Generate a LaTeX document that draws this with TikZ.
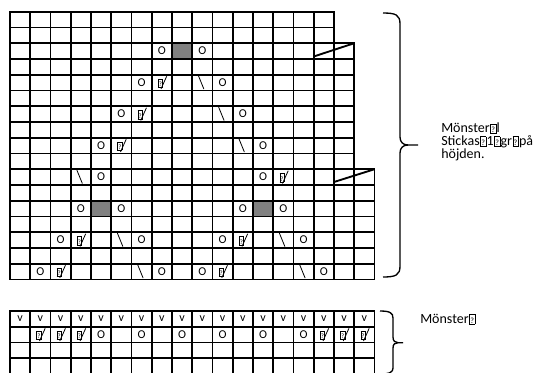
\documentclass[tikz,border=0pt]{standalone}
\usepackage{fontspec}
\setmainfont{Carlito}
\usetikzlibrary{positioning,calc}

\newcommand{\tofu}{{\setlength{\fboxsep}{0.3pt}\setlength{\fboxrule}{0.4pt}\fbox{\rule{0pt}{5.4pt}\fontsize{5}{5}\selectfont ?}}}
\newcommand{\ttofu}{{\setlength{\fboxsep}{0.4pt}\setlength{\fboxrule}{0.5pt}\kern0.3pt\fbox{\rule{0pt}{6pt}\fontsize{6}{6}\selectfont ?}\kern0.3pt}}

\begin{document}
\begin{tikzpicture}[
  x=0.75pt, y=-0.75pt,
  font=\fontsize{9}{9}\selectfont,
  cell/.style={draw=black, line width=1.4pt},
  sym/.style={inner sep=0pt},
  knit/.style={line width=0.6pt},
  lbl/.style={font=\fontsize{10.5}{9.6}\selectfont, align=left, inner sep=0pt, anchor=west},
  brace/.style={line width=1pt},
]
\def\cw{20.25}
\def\ch{15.75}
\clip (0,0) rectangle (542,372);

% top chart, rows 1-2 have 16 stitches, rows 3-10 have 17, rows 11-17 have 18
\foreach \r in {1,...,17}{
  \pgfmathtruncatemacro\n{\r<3 ? 16 : (\r<11 ? 17 : 18)}
  \foreach \c in {1,...,\n}
    \draw[cell] ({10+(\c-1)*\cw},{11.7+(\r-1)*\ch}) rectangle ++(\cw,\ch);
}
\foreach \c in {1,...,18}
  \foreach \r in {1,...,17}
    \coordinate (t-\c-\r) at ({10+(\c-0.5)*\cw},{11.7+(\r-0.5)*\ch});

% bottom chart
\foreach \c in {1,...,18}
  \foreach \r in {1,...,4}{
    \draw[cell] ({10+(\c-1)*\cw},{311+(\r-1)*\ch}) rectangle ++(\cw,\ch);
    \coordinate (b-\c-\r) at ({10+(\c-0.5)*\cw},{311+(\r-0.5)*\ch});
  }

% slanted edges
\draw[cell] (313.75,56.5) -- (354.25,43.2);
\draw[cell] (334,182) -- (374.5,169.2);

% grey squares
\foreach \c/\r in {9/3,5/13,13/13}
  \fill[gray, draw=black, line width=1.4pt] ($(t-\c-\r)+(-\cw/2,-\ch/2)$) rectangle ++(\cw,\ch);

% yarn overs
\foreach \c/\r in {8/3,10/3,7/5,11/5,6/7,12/7,5/9,13/9,5/11,13/11,4/13,6/13,12/13,14/13,3/15,7/15,11/15,15/15,2/17,8/17,10/17,16/17}
  \node[sym] (yo-\c-\r) at (t-\c-\r) {O};

% k2tog
\foreach \c/\r in {8/5,7/7,6/9,14/11,4/15,12/15,3/17,11/17}{
  \node[sym] (kt-\c-\r) at ($(t-\c-\r)+(-1.4,0.6)$) {\tofu};
  \draw[knit] ($(t-\c-\r)+(-0.9,6.4)$) -- ($(t-\c-\r)+(4.8,-6.3)$);
}

% ssk
\foreach \c/\r in {10/5,11/7,12/9,4/11,6/15,14/15,7/17,15/17}
  \draw[knit] ($(t-\c-\r)+(-4,-7)$) -- ($(t-\c-\r)+(1.5,6.5)$);

% bottom chart symbols
\foreach \c in {1,...,18}
  \node[sym] (v-\c) at (b-\c-1) {v};
\foreach \c in {2,3,4,16,17,18}{
  \node[sym] (bk-\c) at ($(b-\c-2)+(-1.4,0.6)$) {\tofu};
  \draw[knit] ($(b-\c-2)+(-0.9,6.4)$) -- ($(b-\c-2)+(4.8,-6.3)$);
}
\foreach \c in {5,7,...,15}
  \node[sym] (by-\c) at (b-\c-2) {O};

% braces
\draw[brace] (383,13) .. controls (396,13) and (400,15) .. (400,24) -- (400,137)
  .. controls (400,142) and (403,145) .. (408,145) -- (418,145);
\draw[brace] (408,145) .. controls (403,145) and (400,148) .. (400,153) -- (400,266)
  .. controls (400,275) and (396,277) .. (383,277);
\draw[brace] (380,311) .. controls (390,311) and (393,313) .. (393,318) -- (393,337)
  .. controls (393,341) and (395,342.7) .. (398,342.7) -- (403,342.7);
\draw[brace] (398,342.7) .. controls (395,342.7) and (393,344) .. (393,348) -- (393,368)
  .. controls (393,372) and (390,374) .. (380,374);

\node[lbl] (pat1) at (441,142) {Mönster\ttofu l\\Stickas\ttofu 1\ttofu gr\ttofu på\\höjden.};
\node[lbl] (pat2) at (420,319.3) {Mönster\ttofu};
\end{tikzpicture}
\end{document}
